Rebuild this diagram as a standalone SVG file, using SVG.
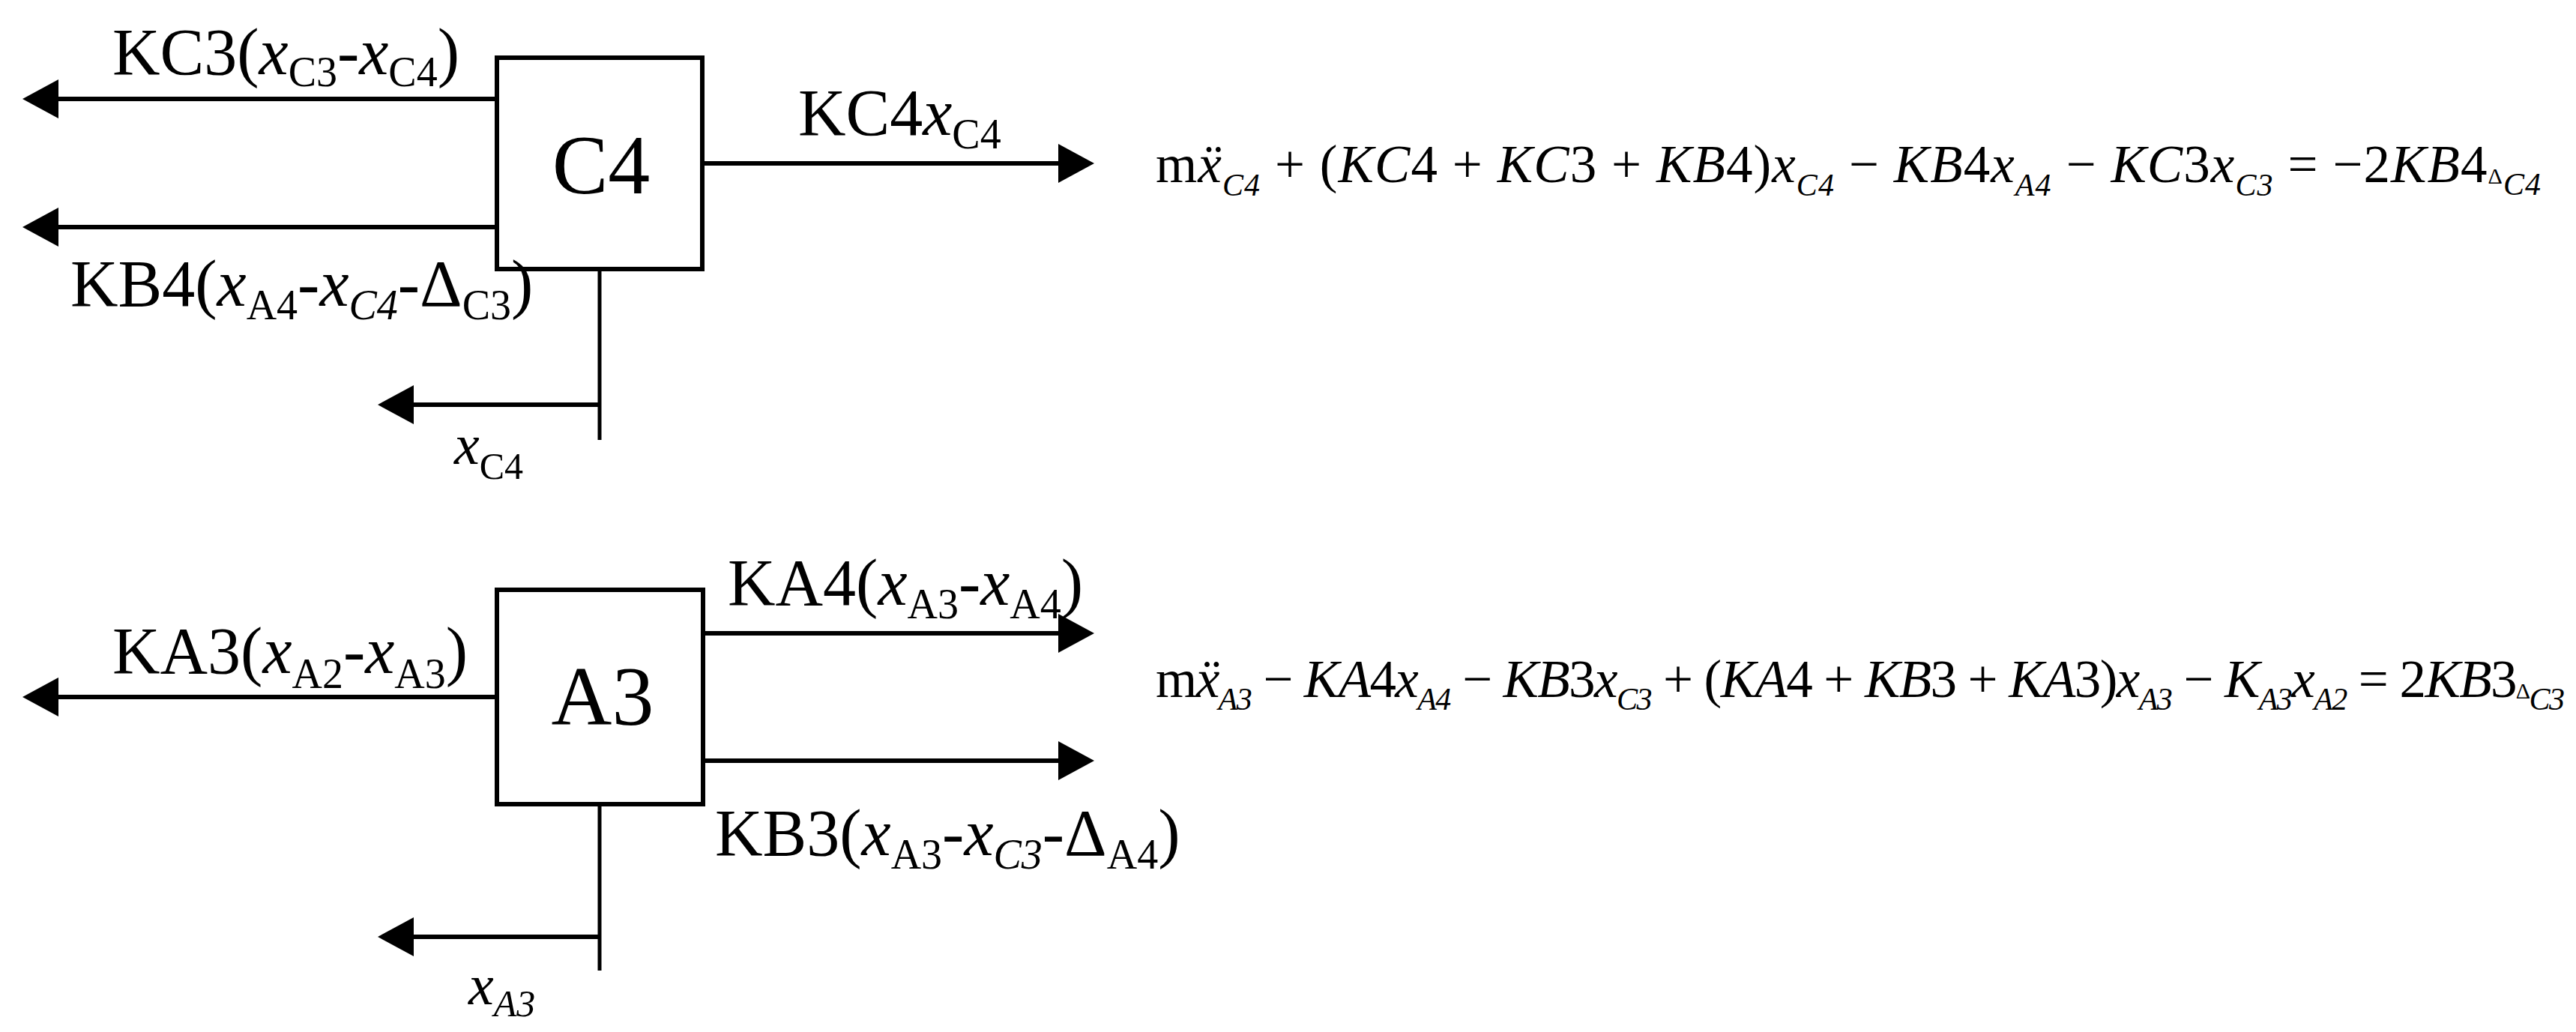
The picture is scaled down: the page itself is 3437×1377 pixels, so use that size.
<svg xmlns="http://www.w3.org/2000/svg" width="3437" height="1377" viewBox="0 0 3437 1377">
<defs>
<marker id="ah" viewBox="0 0 48 52" refX="2" refY="26" markerWidth="48" markerHeight="52" markerUnits="userSpaceOnUse" orient="auto">
<path d="M0,0 L48,26 L0,52 Z" fill="#000"/>
</marker>
</defs>
<style>
.box{fill:#fff;stroke:#000;stroke-width:6}
.ln{stroke:#000;stroke-width:5;fill:none}
.ar{stroke:#000;stroke-width:6;fill:none;marker-end:url(#ah)}
.lbl{font-family:"Liberation Serif","Times New Roman",serif;font-size:88px;fill:#000}
.nm{font-family:"Liberation Serif","Times New Roman",serif;font-size:112px;fill:#000;text-anchor:middle}
.sm{font-family:"Liberation Serif","Times New Roman",serif;font-size:76px;fill:#000}
.i{font-style:italic}
.s{font-size:56px}
.ss{font-size:50px}
.eq{font-family:"Liberation Serif","Times New Roman",serif;font-size:71px;fill:#000}
.es{font-size:42px}
.ed{font-size:30px}
</style>
<rect width="3437" height="1377" fill="#fff"/>
<g id="connectors">
<line class="ar" x1="663" y1="132" x2="76" y2="132"/>
<line class="ar" x1="663" y1="303" x2="76" y2="303"/>
<line class="ar" x1="937" y1="218" x2="1414" y2="218"/>
<line class="ln" x1="800" y1="360" x2="800" y2="587"/>
<line class="ar" x1="800" y1="540" x2="550" y2="540"/>
<line class="ar" x1="663" y1="930" x2="76" y2="930"/>
<line class="ar" x1="938" y1="845" x2="1414" y2="845"/>
<line class="ar" x1="938" y1="1015" x2="1414" y2="1015"/>
<line class="ln" x1="800" y1="1074" x2="800" y2="1295"/>
<line class="ar" x1="800" y1="1250" x2="550" y2="1250"/>
</g>
<g id="node-C4">
<rect class="box" x="663" y="77" width="274" height="282"/>
<text class="nm" x="802" y="258">C4</text>
</g>
<g id="node-A3">
<rect class="box" x="663" y="787" width="275" height="286"/>
<text class="nm" x="804" y="967">A3</text>
</g>
<g id="labels">
<text class="lbl" x="150" y="99">KC3(<tspan class="i">x</tspan><tspan class="s" dy="16">C3</tspan><tspan dy="-16">-</tspan><tspan class="i">x</tspan><tspan class="s" dy="16">C4</tspan><tspan dy="-16">)</tspan></text>
<text class="lbl" x="94" y="408">KB4(<tspan class="i">x</tspan><tspan class="s" dy="18">A4</tspan><tspan dy="-18">-</tspan><tspan class="i">x</tspan><tspan class="s i" dy="18">C4</tspan><tspan dy="-18">-Δ</tspan><tspan class="s" dy="18">C3</tspan><tspan dy="-18">)</tspan></text>
<text class="lbl" x="1065" y="180">KC4<tspan class="i">x</tspan><tspan class="s" dy="18">C4</tspan></text>
<text class="sm" x="606" y="619"><tspan class="i">x</tspan><tspan class="ss" dy="20">C4</tspan></text>
<text class="lbl" x="150" y="898">KA3(<tspan class="i">x</tspan><tspan class="s" dy="20">A2</tspan><tspan dy="-20">-</tspan><tspan class="i">x</tspan><tspan class="s" dy="20">A3</tspan><tspan dy="-20">)</tspan></text>
<text class="lbl" x="971" y="807">KA4(<tspan class="i">x</tspan><tspan class="s" dy="18">A3</tspan><tspan dy="-18">-</tspan><tspan class="i">x</tspan><tspan class="s" dy="18">A4</tspan><tspan dy="-18">)</tspan></text>
<text class="lbl" x="954" y="1141">KB3(<tspan class="i">x</tspan><tspan class="s" dy="18">A3</tspan><tspan dy="-18">-</tspan><tspan class="i">x</tspan><tspan class="s i" dy="18">C3</tspan><tspan dy="-18">-Δ</tspan><tspan class="s" dy="18">A4</tspan><tspan dy="-18">)</tspan></text>
<text class="sm" x="625" y="1340"><tspan class="i">x</tspan><tspan class="ss i" dy="16">A3</tspan></text>
</g>
<g id="equations">
<text class="eq" x="1542" y="243" textLength="1848" lengthAdjust="spacing">m<tspan class="i">ẍ</tspan><tspan class="es i" dy="18">C4</tspan><tspan dy="-18"> + (</tspan><tspan class="i">KC</tspan>4 + <tspan class="i">KC</tspan>3 + <tspan class="i">KB</tspan>4)<tspan class="i">x</tspan><tspan class="es i" dy="18">C4</tspan><tspan dy="-18"> − </tspan><tspan class="i">KB</tspan>4<tspan class="i">x</tspan><tspan class="es i" dy="18">A4</tspan><tspan dy="-18"> − </tspan><tspan class="i">KC</tspan>3<tspan class="i">x</tspan><tspan class="es i" dy="18">C3</tspan><tspan dy="-18"> = −2</tspan><tspan class="i">KB</tspan>4<tspan class="ed" dy="2">Δ</tspan><tspan class="es i" dy="15">C4</tspan></text>
<text class="eq" x="1542" y="930" textLength="1880" lengthAdjust="spacing">m<tspan class="i">ẍ</tspan><tspan class="es i" dy="17">A3</tspan><tspan dy="-17"> − </tspan><tspan class="i">KA</tspan>4<tspan class="i">x</tspan><tspan class="es i" dy="17">A4</tspan><tspan dy="-17"> − </tspan><tspan class="i">KB</tspan>3<tspan class="i">x</tspan><tspan class="es i" dy="17">C3</tspan><tspan dy="-17"> + (</tspan><tspan class="i">KA</tspan>4 + <tspan class="i">KB</tspan>3 + <tspan class="i">KA</tspan>3)<tspan class="i">x</tspan><tspan class="es i" dy="17">A3</tspan><tspan dy="-17"> − </tspan><tspan class="i">K</tspan><tspan class="es i" dy="17">A3</tspan><tspan class="i" dy="-17">x</tspan><tspan class="es i" dy="17">A2</tspan><tspan dy="-17"> = 2</tspan><tspan class="i">KB</tspan>3<tspan class="ed" dy="2">Δ</tspan><tspan class="es i" dy="15">C3</tspan></text>
</g>
</svg>
